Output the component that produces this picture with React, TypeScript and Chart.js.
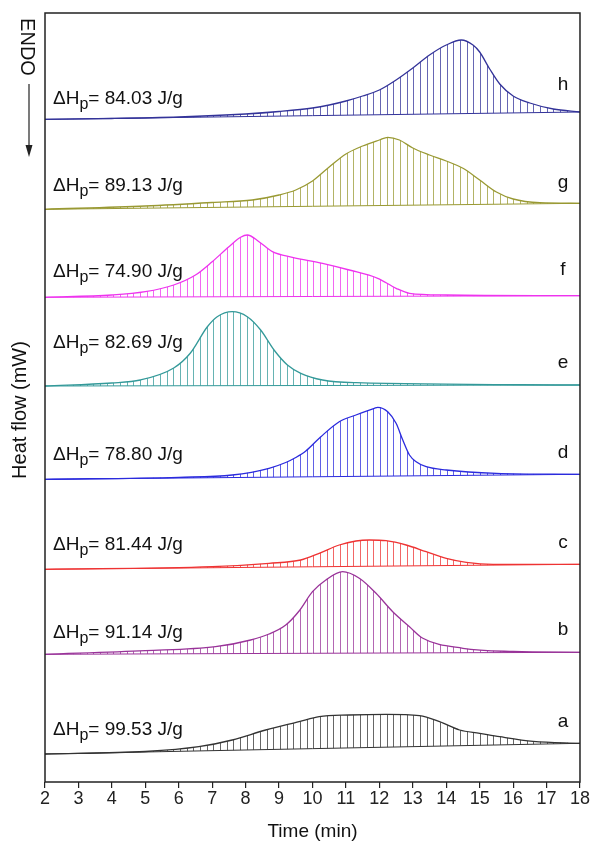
import React, { useEffect, useRef } from "react";
import { Chart, registerables } from "chart.js";

Chart.register(...registerables);

// ---- Data (time in min, heat flow in arbitrary stacked units) ----
const BASE_T = [2, 18];

const TIME_A = [2, 5, 6.6, 7.6, 8.6, 9.6, 10.2, 11.1, 12.2, 13.2, 13.8, 14.4, 15, 15.6, 16.6, 18];
const FLOW_A = [28, 30.5, 35.3, 42, 52, 60.3, 65.3, 67, 67.7, 66.3, 60.3, 52, 48.7, 45.3, 40.7, 38.7];
const BASE_A = [28, 38.7];

const TIME_B = [2, 5, 7.1, 8.15, 8.7, 9.2, 9.6, 10, 10.4, 10.9, 11.4, 11.9, 12.4, 12.9, 13.3, 14.5, 16, 18];
const FLOW_B = [127.7, 131.3, 135.3, 142, 148, 157, 171, 190.3, 202, 210.3, 203.7, 188.7, 170.3, 155.3, 143.7, 133.7, 130.5, 129.7];
const BASE_B = [127.7, 129.7];

const TIME_C = [2, 7, 8.7, 9.65, 10.2, 10.8, 11.3, 11.7, 12.2, 12.8, 13.4, 14, 14.6, 15.4, 18];
const FLOW_C = [212.7, 215.3, 218.7, 222, 228.7, 237, 241, 242, 241.3, 237, 230.3, 223.7, 219.7, 217.7, 217.7];
const BASE_C = [212.7, 217.7];

const TIME_D = [2, 6, 7.6, 8.7, 9.2, 9.5, 9.8, 10.25, 10.8, 11.3, 11.85, 11.95, 12.25, 12.5, 12.7, 12.9, 13.1, 13.4, 14, 15.5, 18];
const FLOW_D = [302.7, 304.7, 307, 313.7, 319.5, 324.5, 331, 345.3, 360.3, 367, 373.7, 374.7, 370.3, 358.7, 342, 327, 320.3, 315.3, 312, 308.7, 307.7];
const BASE_D = [302.7, 307.7];

const TIME_E = [2, 4, 4.85, 5.85, 6.35, 6.85, 7.15, 7.6, 8.05, 8.45, 8.85, 9.25, 9.65, 10.3, 11.3, 18];
const FLOW_E = [396, 399, 402, 414, 429, 455, 465.3, 470.3, 465.3, 452, 432, 417, 408.7, 402, 399.3, 397];
const BASE_E = [396, 397];

const TIME_F = [2, 4, 5, 5.85, 6.5, 7, 7.5, 7.85, 8.05, 8.4, 8.8, 9.4, 10.3, 11.1, 11.95, 12.5, 12.9, 14, 18];
const FLOW_F = [484.7, 487, 490.3, 497, 507, 520.3, 535.3, 544.7, 547, 540.3, 530.3, 524.7, 518.7, 512, 503.7, 493.7, 488.7, 487, 486.3];
const BASE_F = [484.7, 486.3];

const TIME_G = [2, 5, 7, 8.2, 9, 9.5, 10, 10.5, 11, 11.5, 12, 12.25, 12.6, 13, 13.5, 14, 14.5, 15, 15.5, 16, 16.8, 18];
const FLOW_G = [572.7, 576, 579.5, 582, 587, 592, 601, 615, 628, 636, 642, 644.7, 642, 634, 627, 621, 613.7, 602, 590, 583, 579.3, 578.7];
const BASE_G = [572.7, 578.7];

const TIME_H = [2, 4, 6, 8, 9, 10, 10.5, 11, 11.5, 12, 12.5, 13, 13.5, 14, 14.45, 14.8, 15, 15.3, 15.6, 16, 16.5, 17.2, 18];
const FLOW_H = [662.7, 663.5, 665, 668, 670.5, 674, 677, 681, 686, 692, 702, 714, 727, 737, 742, 737, 730, 713, 698, 686, 679, 673, 670];
const BASE_H = [662.7, 670];

const LETTERS = ["a", "b", "c", "d", "e", "f", "g", "h"];
const ENTHALPY = ["99.53", "91.14", "81.44", "78.80", "82.69", "74.90", "89.13", "84.03"];
const X_TICKS = [2, 3, 4, 5, 6, 7, 8, 9, 10, 11, 12, 13, 14, 15, 16, 17, 18];

// ---- Styles / layout (kept separate from data) ----
const COLORS = ["#333333", "#993399", "#ee3333", "#2b2bdd", "#339999", "#ee33ee", "#999933", "#333399"];
const DH_LABEL_Y = [47, 144, 232, 322, 434, 505, 591, 678];
const LETTER_Y = [55, 147, 234, 324, 414, 507, 594, 692];
const FONT = '"Liberation Sans", Arial, sans-serif';

const SERIES = [
  { t: TIME_A, v: FLOW_A, base: BASE_A },
  { t: TIME_B, v: FLOW_B, base: BASE_B },
  { t: TIME_C, v: FLOW_C, base: BASE_C },
  { t: TIME_D, v: FLOW_D, base: BASE_D },
  { t: TIME_E, v: FLOW_E, base: BASE_E },
  { t: TIME_F, v: FLOW_F, base: BASE_F },
  { t: TIME_G, v: FLOW_G, base: BASE_G },
  { t: TIME_H, v: FLOW_H, base: BASE_H },
];

function hexToRgba(hex: string, a: number) {
  const n = parseInt(hex.slice(1), 16);
  return `rgba(${(n >> 16) & 255},${(n >> 8) & 255},${n & 255},${a})`;
}

function makeHatch(ctx: CanvasRenderingContext2D, color: string) {
  const c = document.createElement("canvas");
  c.width = 20;
  c.height = 4;
  const g = c.getContext("2d")!;
  g.fillStyle = hexToRgba(color, 0.75);
  g.fillRect(0, 0, 1, 4);
  g.fillRect(7, 0, 1, 4);
  g.fillRect(13, 0, 1, 4);
  return ctx.createPattern(c, "repeat");
}

const annotations = {
  id: "annotations",
  afterDraw(chart: any) {
    const { ctx, chartArea, scales } = chart;
    const xs = scales.x;
    const ys = scales.y;
    ctx.save();
    // frame
    ctx.strokeStyle = "#222";
    ctx.lineWidth = 1.5;
    ctx.strokeRect(chartArea.left, chartArea.top, chartArea.right - chartArea.left, chartArea.bottom - chartArea.top);

    ctx.fillStyle = "#111";
    ctx.textBaseline = "alphabetic";
    // ΔHp labels
    const lx = xs.getPixelForValue(2.24);
    ENTHALPY.forEach((val, i) => {
      const y = ys.getPixelForValue(DH_LABEL_Y[i]);
      ctx.textAlign = "left";
      ctx.font = `19px ${FONT}`;
      ctx.fillText("ΔH", lx, y);
      const w1 = ctx.measureText("ΔH").width;
      ctx.font = `16px ${FONT}`;
      ctx.fillText("p", lx + w1, y + 5);
      const w2 = ctx.measureText("p").width;
      ctx.font = `19px ${FONT}`;
      ctx.fillText(`= ${val} J/g`, lx + w1 + w2, y);
    });
    // letters
    const rx = xs.getPixelForValue(17.49);
    LETTERS.forEach((l, i) => {
      ctx.textAlign = "center";
      ctx.font = `19px ${FONT}`;
      ctx.fillText(l, rx, ys.getPixelForValue(LETTER_Y[i]));
    });

    // axis titles
    ctx.textAlign = "center";
    ctx.textBaseline = "middle";
    ctx.font = `19px ${FONT}`;
    ctx.fillText("Time (min)", (chartArea.left + chartArea.right) / 2, 832);

    ctx.save();
    ctx.translate(20, 410);
    ctx.rotate(-Math.PI / 2);
    ctx.font = `20px ${FONT}`;
    ctx.fillText("Heat flow (mW)", 0, 0);
    ctx.restore();

    // ENDO + arrow
    ctx.save();
    ctx.translate(27, 47);
    ctx.rotate(Math.PI / 2);
    ctx.font = `20px ${FONT}`;
    ctx.fillText("ENDO", 0, 0);
    ctx.restore();

    ctx.strokeStyle = "#222";
    ctx.lineWidth = 1.2;
    ctx.beginPath();
    ctx.moveTo(29, 84);
    ctx.lineTo(29, 148);
    ctx.stroke();
    ctx.beginPath();
    ctx.moveTo(25.5, 145);
    ctx.lineTo(32.5, 145);
    ctx.lineTo(29, 157);
    ctx.closePath();
    ctx.fillStyle = "#222";
    ctx.fill();
    ctx.restore();
  },
};

export default function App() {
  const ref = useRef<HTMLCanvasElement>(null);

  useEffect(() => {
    const canvas = ref.current!;
    const ctx = canvas.getContext("2d")!;
    const datasets: any[] = [];
    SERIES.forEach((s, i) => {
      datasets.push({
        label: LETTERS[i],
        data: s.t.map((t, k) => ({ x: t, y: s.v[k] })),
        borderColor: COLORS[i],
        borderWidth: 1.3,
        pointRadius: 0,
        cubicInterpolationMode: "monotone",
        fill: "+1",
        backgroundColor: makeHatch(ctx, COLORS[i]),
      });
      datasets.push({
        label: LETTERS[i] + " baseline",
        data: BASE_T.map((t, k) => ({ x: t, y: s.base[k] })),
        borderColor: COLORS[i],
        borderWidth: 1,
        pointRadius: 0,
        fill: false,
      });
    });

    const chart = new Chart(ctx, {
      type: "line",
      data: { datasets },
      options: {
        responsive: true,
        maintainAspectRatio: false,
        animation: false,
        layout: { padding: { left: 45, right: 10, top: 13, bottom: 0 } },
        plugins: { legend: { display: false }, tooltip: { enabled: false } },
        scales: {
          x: {
            type: "linear",
            min: 2,
            max: 18,
            afterBuildTicks: (s: any) => {
              s.ticks = X_TICKS.map((v) => ({ value: v }));
            },
            afterFit: (s: any) => {
              s.height = 63;
            },
            ticks: {
              autoSkip: false,
              maxRotation: 0,
              padding: 0,
              color: "#222",
              font: { family: FONT, size: 18 },
            },
            grid: {
              display: true,
              drawOnChartArea: false,
              drawTicks: true,
              tickLength: 6,
              color: "#222",
              lineWidth: 1.2,
            },
            border: { display: false },
          },
          y: { display: false, min: 0, max: 769 },
        },
      },
      plugins: [annotations],
    });
    return () => chart.destroy();
  }, []);

  return (
    <div style={{ position: "fixed", left: 0, top: 0, width: 590, height: 845, background: "#fff" }}>
      <canvas ref={ref} />
    </div>
  );
}
